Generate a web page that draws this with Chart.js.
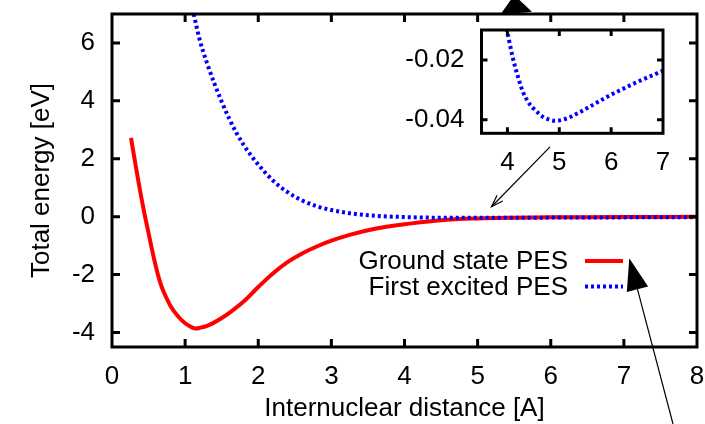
<!DOCTYPE html>
<html lang="en">
<head>
<meta charset="UTF-8">
<title>Potential energy surfaces</title>
<script src="https://cdn.jsdelivr.net/npm/chart.js"></script>
<style>
  body { margin: 0; background: #fff; }
  #wrap { position: relative; width: 705px; height: 424px; }
  #wrap canvas { position: absolute; left: 0; top: 0; }
  #insetChart { pointer-events: none; }
</style>
</head>
<body>
<div id="wrap">
  <canvas id="pesChart" width="705" height="424"></canvas>
  <canvas id="insetChart" width="705" height="424"></canvas>
</div>
<script>
// ground state PES (distance in A, energy in eV)
const groundDist = [0.26, 0.3, 0.35, 0.4, 0.45, 0.5, 0.55, 0.6, 0.65, 0.7, 0.8, 0.9, 1.0, 1.1, 1.15, 1.2, 1.3, 1.4, 1.5, 1.6, 1.8, 2.0, 2.2, 2.4, 2.6, 2.8, 3.0, 3.25, 3.5, 3.75, 4.0, 4.5, 5.0, 5.5, 6.0, 7.0, 8.0];
const groundEnergy = [2.72, 2.12, 1.38, 0.68, 0.03, -0.57, -1.17, -1.72, -2.2, -2.56, -3.08, -3.43, -3.68, -3.83, -3.86, -3.84, -3.77, -3.65, -3.5, -3.33, -2.93, -2.43, -1.96, -1.57, -1.27, -1.03, -0.83, -0.63, -0.47, -0.35, -0.26, -0.12, -0.06, -0.035, -0.022, -0.01, -0.005];

// first excited PES
const excitedDist = [1.1, 1.2, 1.3, 1.4, 1.5, 1.6, 1.7, 1.8, 1.9, 2.0, 2.2, 2.4, 2.6, 2.8, 3.0, 3.25, 3.5, 3.7, 3.8, 3.9, 3.95, 4.0, 4.05, 4.1, 4.2, 4.3, 4.4, 4.5, 4.6, 4.7, 4.8, 4.9, 5.0, 5.1, 5.2, 5.3, 5.4, 5.6, 5.8, 6.0, 6.2, 6.4, 6.6, 6.8, 7.0, 7.5, 8.0];
const excitedEnergy = [7.2, 6.1, 5.3, 4.6, 3.97, 3.4, 2.9, 2.48, 2.12, 1.8, 1.25, 0.85, 0.56, 0.36, 0.23, 0.12, 0.05, 0.016, 0.005, -0.004, -0.008, -0.011, -0.015, -0.019, -0.0255, -0.0307, -0.034, -0.0362, -0.0378, -0.0392, -0.0399, -0.0403, -0.0402, -0.0398, -0.0392, -0.0383, -0.0374, -0.0355, -0.0335, -0.0316, -0.0299, -0.0282, -0.0266, -0.0251, -0.0236, -0.020, -0.017];

const distanceTicks = [0, 1, 2, 3, 4, 5, 6, 7, 8];
const energyTicks = [-4, -2, 0, 2, 4, 6];
const insetDistanceTicks = [4, 5, 6, 7];
const insetEnergyTicks = [-0.04, -0.02];

// arrows [x from, y from, x to, y to] in the main plot's units
const arrowSegments = [
    [5.525, 7.017, 5.5, 7.655],
    [5.99, 2.41, 5.19, 0.345],
    [7.672, -7.16, 7.074, -1.436]
];

const FONT = "'Liberation Sans', Arial, sans-serif";
Chart.defaults.font.family = FONT;
Chart.defaults.font.size = 26;
Chart.defaults.color = '#000';

const toPoints = (xs, ys) => xs.map((x, i) => ({ x: x, y: ys[i] }));

const groundSet = {
    label: 'Ground state PES',
    data: toPoints(groundDist, groundEnergy),
    borderColor: '#ff0000',
    borderWidth: 4,
    pointRadius: 0,
    tension: 0.35,
    order: 1,
    clip: 0
};
const excitedSet = {
    label: 'First excited PES',
    data: toPoints(excitedDist, excitedEnergy),
    borderColor: '#0000ff',
    borderWidth: 4,
    borderDash: [3, 3],
    borderCapStyle: 'butt',
    pointRadius: 0,
    cubicInterpolationMode: 'monotone',
    order: 0,
    clip: 0
};

// gnuplot style border with inward ticks on all four sides
const framePlugin = {
    id: 'frame',
    afterDatasetsDraw(chart, args, opts) {
        const { ctx, chartArea: a, scales } = chart;
        ctx.save();
        ctx.strokeStyle = '#000';
        ctx.lineWidth = opts.width;
        ctx.beginPath();
        scales.x.ticks.forEach(t => {
            const px = scales.x.getPixelForValue(t.value);
            if (px < a.left + 2 || px > a.right - 2) return;
            ctx.moveTo(px, a.bottom); ctx.lineTo(px, a.bottom - opts.tick);
            ctx.moveTo(px, a.top); ctx.lineTo(px, a.top + opts.tick);
        });
        scales.y.ticks.forEach(t => {
            const py = scales.y.getPixelForValue(t.value);
            if (py < a.top + 2 || py > a.bottom - 2) return;
            ctx.moveTo(a.left, py); ctx.lineTo(a.left + opts.tick, py);
            ctx.moveTo(a.right, py); ctx.lineTo(a.right - opts.tick, py);
        });
        ctx.stroke();
        ctx.strokeRect(a.left, a.top, a.right - a.left, a.bottom - a.top);
        ctx.restore();
    }
};

// key inside the plot: text on the left, line sample on the right
const keyPlugin = {
    id: 'key',
    afterDatasetsDraw(chart, args, opts) {
        const { ctx, chartArea: a } = chart;
        ctx.save();
        ctx.font = '26px ' + FONT;
        ctx.fillStyle = '#000';
        ctx.textAlign = 'right';
        ctx.textBaseline = 'middle';
        chart.data.datasets.forEach((ds, i) => {
            const y = a.top + opts.top + i * opts.rowHeight;
            const x = a.right - opts.right;
            ctx.fillText(ds.label, x, y + 1);
            ctx.strokeStyle = ds.borderColor;
            ctx.lineWidth = ds.borderWidth;
            ctx.setLineDash(ds.borderDash || []);
            ctx.beginPath();
            ctx.moveTo(x + 17, y);
            ctx.lineTo(x + 55, y);
            ctx.stroke();
        });
        ctx.restore();
    }
};

const arrowPlugin = {
    id: 'arrows',
    afterDraw(chart, args, opts) {
        const { ctx, scales } = chart;
        ctx.save();
        ctx.strokeStyle = '#000';
        ctx.fillStyle = '#000';
        ctx.lineWidth = 1.2;
        arrowSegments.forEach((seg, i) => {
            const head = opts.heads[i];
            const x1 = scales.x.getPixelForValue(seg[0]);
            const y1 = scales.y.getPixelForValue(seg[1]);
            const x2 = scales.x.getPixelForValue(seg[2]);
            const y2 = scales.y.getPixelForValue(seg[3]);
            const ang = Math.atan2(y2 - y1, x2 - x1);
            const bx = x2 - head.len * Math.cos(ang);
            const by = y2 - head.len * Math.sin(ang);
            const px = -Math.sin(ang) * head.half;
            const py = Math.cos(ang) * head.half;
            ctx.beginPath();
            ctx.moveTo(x1, y1);
            ctx.lineTo(head.filled ? bx : x2, head.filled ? by : y2);
            ctx.stroke();
            ctx.beginPath();
            ctx.moveTo(bx + px, by + py);
            ctx.lineTo(x2, y2);
            ctx.lineTo(bx - px, by - py);
            if (head.filled) {
                ctx.closePath();
                ctx.fill();
            } else {
                ctx.stroke();
            }
        });
        ctx.restore();
    }
};

const fixedTicks = values => scale => { scale.ticks = values.map(v => ({ value: v })); };
// keep the plot area where it is: no extra room for overhanging tick labels
const fixHeight = h => s => { s.height = h; s.paddingLeft = 0; s.paddingRight = 0; };
const fixWidth = w => s => { s.width = w; s.paddingTop = 0; s.paddingBottom = 0; };

new Chart(document.getElementById('pesChart'), {
    type: 'line',
    data: { datasets: [groundSet, excitedSet] },
    plugins: [framePlugin, keyPlugin, arrowPlugin],
    options: {
        responsive: false,
        animation: false,
        events: [],
        layout: { padding: { top: 14, right: 8, left: 0, bottom: 0 } },
        plugins: {
            legend: { display: false },
            tooltip: { enabled: false },
            frame: { width: 3, tick: 8 },
            key: { top: 247, rowHeight: 25.5, right: 129 },
            arrows: {
                heads: [
                    { len: 18.5, half: 16, filled: true },
                    { len: 12, half: 4, filled: false },
                    { len: 32, half: 11, filled: true }
                ]
            }
        },
        scales: {
            x: {
                type: 'linear',
                min: 0,
                max: 8,
                afterBuildTicks: fixedTicks(distanceTicks),
                afterFit: fixHeight(77),
                grid: { display: false, drawTicks: false },
                border: { display: false },
                ticks: { padding: 14, maxRotation: 0, callback: v => String(v) },
                title: { display: true, text: 'Internuclear distance [A]', padding: { top: 0, bottom: 0 } }
            },
            y: {
                type: 'linear',
                min: -4.5,
                max: 7,
                afterBuildTicks: fixedTicks(energyTicks),
                afterFit: fixWidth(112),
                grid: { display: false, drawTicks: false },
                border: { display: false },
                ticks: { padding: 17, callback: v => String(v) },
                title: { display: true, text: 'Total energy [eV]', padding: { top: 26, bottom: 0 } }
            }
        }
    }
});

// inset: zoom on the shallow well of the excited state
new Chart(document.getElementById('insetChart'), {
    type: 'line',
    data: { datasets: [Object.assign({}, excitedSet, { clip: 0 })] },
    plugins: [framePlugin],
    options: {
        responsive: false,
        animation: false,
        events: [],
        layout: { padding: { top: 30, right: 42, left: 0, bottom: 0 } },
        plugins: {
            legend: { display: false },
            tooltip: { enabled: false },
            frame: { width: 3, tick: 6 }
        },
        scales: {
            x: {
                type: 'linear',
                min: 3.5,
                max: 7,
                afterBuildTicks: fixedTicks(insetDistanceTicks),
                afterFit: fixHeight(290.7),
                grid: { display: false, drawTicks: false },
                border: { display: false },
                ticks: { padding: 14, maxRotation: 0, callback: v => String(v) }
            },
            y: {
                type: 'linear',
                min: -0.0445,
                max: -0.01,
                afterBuildTicks: fixedTicks(insetEnergyTicks),
                afterFit: fixWidth(481.5),
                grid: { display: false, drawTicks: false },
                border: { display: false },
                ticks: { padding: 17, callback: v => v.toFixed(2) }
            }
        }
    }
});
</script>
</body>
</html>
